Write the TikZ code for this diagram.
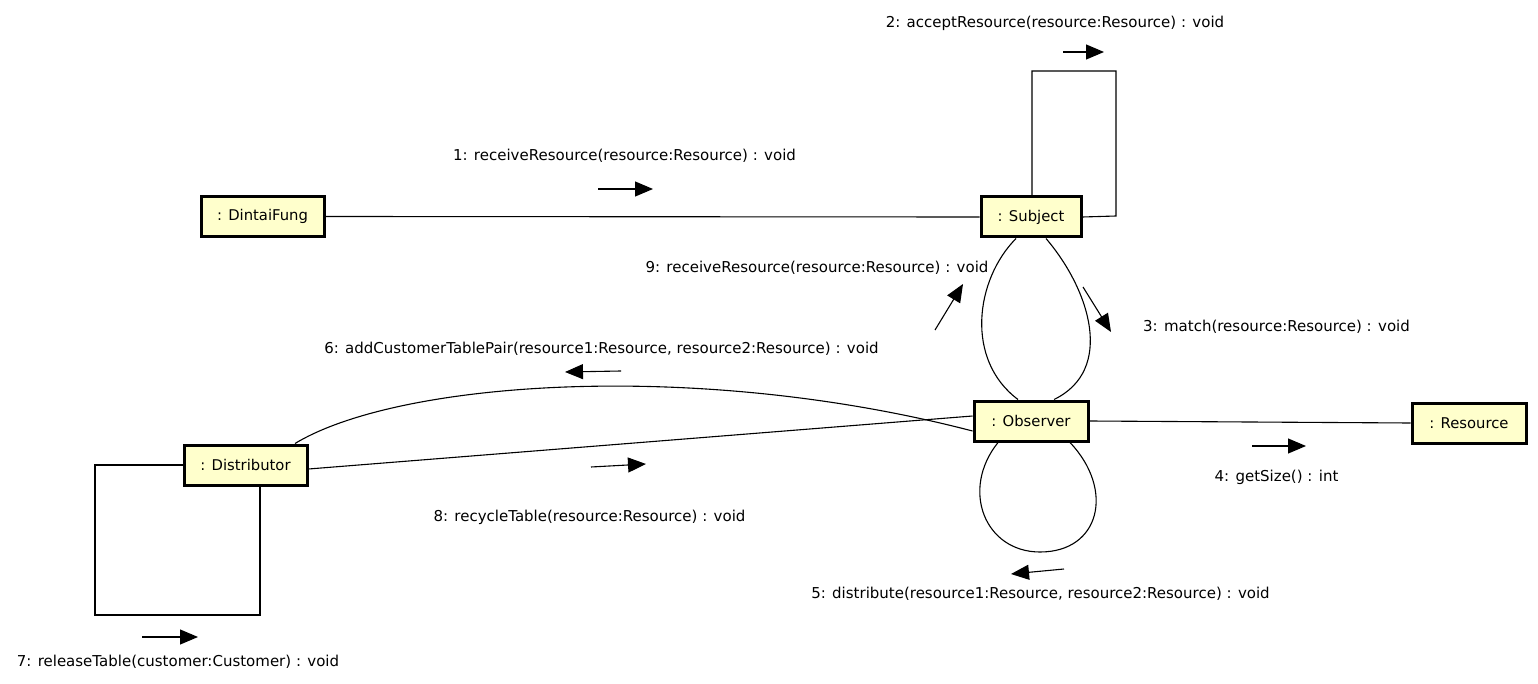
\documentclass[tikz,border=0pt]{standalone}
\usepackage{fontspec}
\setmainfont{DejaVu Sans}
\usetikzlibrary{arrows.meta}
\definecolor{boxfill}{HTML}{FFFFCC}
\begin{document}
\begin{tikzpicture}[x=1pt,y=-1pt,
  obj/.style={draw=black,line width=3pt,fill=boxfill,minimum height=40pt,inner sep=0pt,font=\fontsize{14.8}{17}\selectfont},
  conn/.style={line width=1.1pt},
  msg/.style={line width=1.1pt,-{Triangle[length=18pt,width=15pt]}},
  lbl/.style={font=\fontsize{15}{17}\selectfont,inner sep=0pt}]
\useasboundingbox (0,0) rectangle (1538,684);
% objects
\node[obj,minimum width=123pt] (dtf) at (262.5,216.5) {: DintaiFung};
\node[obj,minimum width=100pt] (subj) at (1031,217) {: Subject};
\node[obj,minimum width=114pt] (obs) at (1031,421) {: Observer};
\node[obj,minimum width=114pt] (res) at (1469,423) {: Resource};
\node[obj,minimum width=123pt] (dist) at (245.5,465) {: Distributor};
% connectors
\draw[conn] (dtf.east) -- (subj.west);
\draw[conn] ([xshift=1pt]subj.north) -- (1032,71) -- (1116,71) -- (1116,216) -- (subj.east);
\draw[conn] ([xshift=-15pt]subj.south) .. controls (975,280) and (965,360) .. ([xshift=-13pt]obs.north);
\draw[conn] ([xshift=15pt]subj.south) .. controls (1090,290) and (1115,370) .. ([xshift=23pt]obs.north);
\draw[conn] ([xshift=-33pt]obs.south) .. controls (960,490) and (985,552) .. (1040,552) .. controls (1100,552) and (1115,490) .. ([xshift=39pt]obs.south);
\draw[conn] (obs.east) -- (res.west);
\draw[conn] ([yshift=5pt]obs.west) -- ([yshift=-4pt]dist.east);
\draw[conn] ([yshift=-10pt]obs.west) .. controls (700,360) and (400,380) .. ([xshift=49.5pt]dist.north);
\draw[conn] (dist.west) -- (95,465) -- (95,615) -- (260,615) -- ([xshift=14.5pt]dist.south);
% message arrows
\coordinate (a1s) at (598,189); \coordinate (a1e) at (653,189);
\coordinate (a2s) at (1063,52); \coordinate (a2e) at (1104,52);
\coordinate (a3s) at (1083,287); \coordinate (a3e) at (1111,332);
\coordinate (a9s) at (935,330); \coordinate (a9e) at (963,284);
\coordinate (a6s) at (621,371); \coordinate (a6e) at (565,372);
\coordinate (a8s) at (591,467); \coordinate (a8e) at (646,464);
\coordinate (a4s) at (1252,446); \coordinate (a4e) at (1306,446);
\coordinate (a5s) at (1064,569); \coordinate (a5e) at (1011,574);
\coordinate (a7s) at (142,637); \coordinate (a7e) at (198,637);
\draw[msg] (a1s) -- (a1e);
\draw[msg] (a2s) -- (a2e);
\draw[msg] (a3s) -- (a3e);
\draw[msg] (a9s) -- (a9e);
\draw[msg] (a6s) -- (a6e);
\draw[msg] (a8s) -- (a8e);
\draw[msg] (a4s) -- (a4e);
\draw[msg] (a5s) -- (a5e);
\draw[msg] (a7s) -- (a7e);
% labels
\node[lbl] (l2) at (1055,23) {2: acceptResource(resource:Resource) : void};
\node[lbl] (l1) at (624.5,156) {1: receiveResource(resource:Resource) : void};
\node[lbl] (l9) at (817,268) {9: receiveResource(resource:Resource) : void};
\node[lbl] (l3) at (1276.5,327) {3: match(resource:Resource) : void};
\node[lbl] (l6) at (601.5,349) {6: addCustomerTablePair(resource1:Resource, resource2:Resource) : void};
\node[lbl] (l8) at (589.5,517) {8: recycleTable(resource:Resource) : void};
\node[lbl] (l4) at (1276.5,477) {4: getSize() : int};
\node[lbl] (l5) at (1040.5,594) {5: distribute(resource1:Resource, resource2:Resource) : void};
\node[lbl] (l7) at (178,662) {7: releaseTable(customer:Customer) : void};
\end{tikzpicture}
\end{document}
